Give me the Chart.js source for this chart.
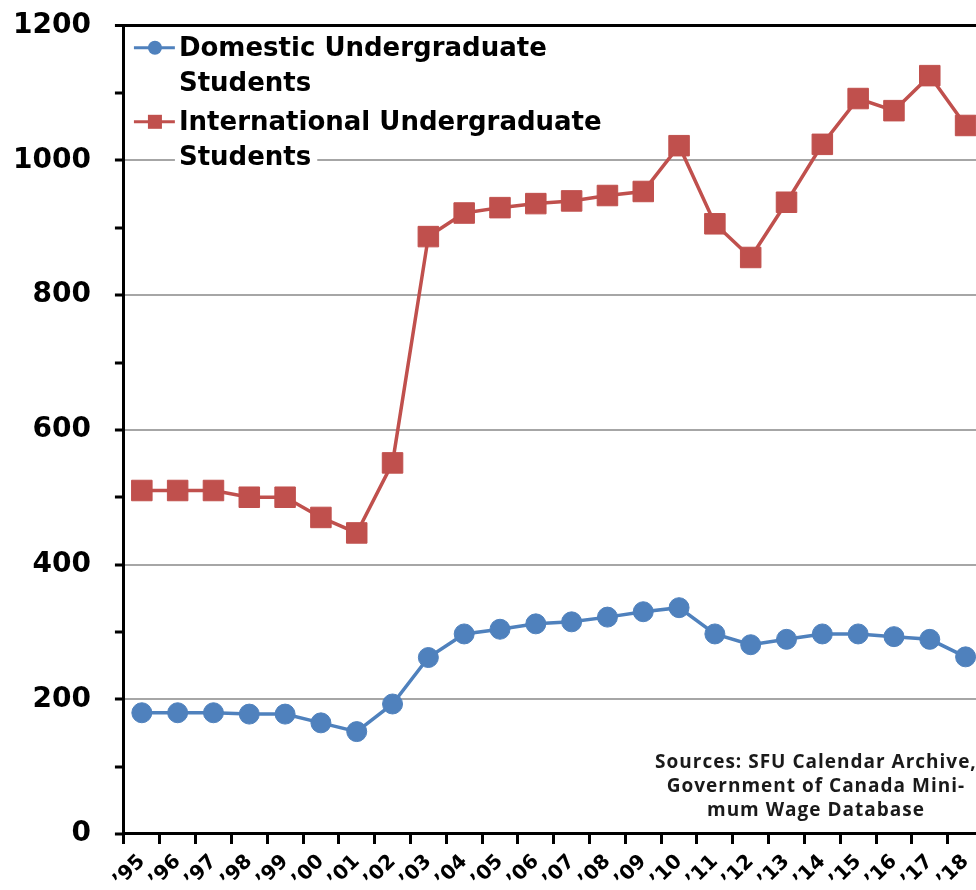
<!DOCTYPE html>
<html>
<head>
<meta charset="utf-8">
<script src="https://cdn.jsdelivr.net/npm/chart.js@4.4.1/dist/chart.umd.min.js"></script>
<style>
  html, body { margin: 0; padding: 0; background: #fff; overflow: hidden; }
  #wrap { position: absolute; left: -17px; top: -15px; width: 1016px; height: 914px; }
</style>
</head>
<body>
<div id="wrap"><canvas id="studentsChart" width="1016" height="914"></canvas></div>
<script>
const years = ['’95', '’96', '’97', '’98', '’99', '’00', '’01', '’02', '’03', '’04', '’05', '’06',
  '’07', '’08', '’09', '’10', '’11', '’12', '’13', '’14', '’15', '’16', '’17', '’18'];

const domestic = [180, 180, 180, 178, 178, 165, 152, 193, 262, 297, 304, 312,
  315, 322, 330, 336, 297, 281, 289, 297, 297, 293, 289, 263];

const international = [510, 510, 510, 500, 500, 470, 447, 551, 887, 922, 930, 936,
  940, 948, 954, 1022, 906, 856, 938, 1024, 1092, 1074, 1126, 1052];

const seriesNames = [
  ['Domestic Undergraduate', 'Students'],
  ['International Undergraduate', 'Students']
];

const sourceLines = ['Sources: SFU Calendar Archive,', 'Government of Canada Mini-', 'mum Wage Database'];

const BLUE = '#4F81BD';
const RED = '#C0504D';

// legend drawn by hand so the names can wrap onto two lines
const wrappedLegend = {
  id: 'wrappedLegend',
  afterDatasetsDraw(chart) {
    const { ctx, chartArea } = chart;
    const left = chartArea.left;
    const rows = [chartArea.top + 22, chartArea.top + 96];
    ctx.save();
    ctx.font = 'bold 26px "DejaVu Sans"';
    ctx.textBaseline = 'middle';
    chart.data.datasets.forEach((ds, i) => {
      const y = rows[i];
      ctx.strokeStyle = ds.borderColor;
      ctx.lineWidth = 3;
      ctx.beginPath();
      ctx.moveTo(left + 10, y);
      ctx.lineTo(left + 51, y);
      ctx.stroke();
      ctx.fillStyle = ds.borderColor;
      if (ds.pointStyle === 'rect') {
        ctx.fillRect(left + 24, y - 7, 14, 14);
      } else {
        ctx.beginPath();
        ctx.arc(left + 31, y, 7, 0, Math.PI * 2);
        ctx.fill();
      }
      seriesNames[i].forEach((line, j) => {
        const ty = y + j * 35;
        const w = ctx.measureText(line).width;
        ctx.fillStyle = '#fff';
        ctx.fillRect(left + 51, ty - 15, w + 10, 30);
        ctx.fillStyle = '#000';
        ctx.fillText(line, left + 55, ty + 1);
      });
    });
    ctx.restore();
  }
};

const sourceNote = {
  id: 'sourceNote',
  afterDatasetsDraw(chart) {
    const { ctx, chartArea } = chart;
    ctx.save();
    ctx.font = 'bold 19px "Open Sans"';
    ctx.letterSpacing = '1px';
    ctx.fillStyle = '#1a1a1a';
    ctx.textAlign = 'center';
    ctx.textBaseline = 'middle';
    sourceLines.forEach((line, i) => {
      ctx.fillText(line, chartArea.left + 692, chartArea.bottom - 71 + i * 24);
    });
    ctx.restore();
  }
};

new Chart(document.getElementById('studentsChart'), {
  type: 'line',
  data: {
    labels: years,
    datasets: [
      {
        label: seriesNames[0].join(' '),
        data: domestic,
        borderColor: BLUE,
        backgroundColor: BLUE,
        borderWidth: 3.5,
        pointStyle: 'circle',
        pointRadius: 10,
        pointBorderWidth: 1,
        pointBorderColor: BLUE,
        pointBackgroundColor: BLUE,
        tension: 0
      },
      {
        label: seriesNames[1].join(' '),
        data: international,
        borderColor: RED,
        backgroundColor: RED,
        borderWidth: 3.5,
        pointStyle: 'rect',
        pointRadius: 14.5,
        pointBorderWidth: 1,
        pointBorderColor: RED,
        pointBackgroundColor: RED,
        tension: 0
      }
    ]
  },
  options: {
    responsive: false,
    animation: false,
    layout: {
      padding: { left: 6, right: 6, top: 0, bottom: 1 }
    },
    plugins: {
      legend: { display: false },
      tooltip: { enabled: false }
    },
    scales: {
      x: {
        offset: true,
        border: { color: '#000', width: 3 },
        grid: {
          offset: true,
          drawOnChartArea: false,
          drawTicks: true,
          tickLength: 10,
          tickColor: '#000',
          tickWidth: 3
        },
        ticks: {
          autoSkip: false,
          maxRotation: 45,
          minRotation: 45,
          padding: 6,
          color: '#000',
          font: { family: 'DejaVu Sans', weight: 'bold', size: 20 }
        }
      },
      y: {
        min: 0,
        max: 1200,
        border: { color: '#000', width: 3 },
        grid: {
          color(c) {
            if (c.tick.value === 1200) return '#000';
            return c.tick.value % 200 === 0 ? '#a6a6a6' : 'rgba(0,0,0,0)';
          },
          lineWidth(c) {
            return c.tick.value === 1200 ? 3 : 2;
          },
          tickColor: '#000',
          tickLength: 9,
          tickWidth: 3
        },
        ticks: {
          stepSize: 100,
          padding: 24,
          color: '#000',
          font: { family: 'DejaVu Sans', weight: 'bold', size: 28 },
          callback(value) {
            return value % 200 === 0 ? value : '';
          }
        }
      }
    }
  },
  plugins: [wrappedLegend, sourceNote]
});
</script>
</body>
</html>
